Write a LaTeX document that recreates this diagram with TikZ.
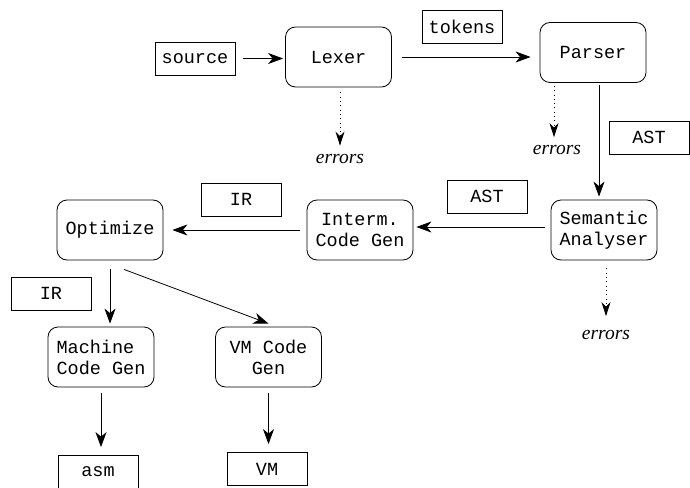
\documentclass[tikz,border=0pt]{standalone}
\usepackage{fontspec}
\setmonofont{Liberation Mono}
\newfontfamily\errfont{Liberation Serif}
\usetikzlibrary{arrows.meta,calc}

\begin{document}
\begin{tikzpicture}[x=1pt,y=-1pt,
  codefont/.style={font=\ttfamily\fontsize{18.5}{21}\selectfont},
  stage/.style={draw, codefont, rounded corners=10pt, minimum width=106pt,
    minimum height=60pt, align=center, inner sep=2pt, line width=0.8pt},
  datum/.style={draw, codefont, minimum width=80pt, minimum height=33pt,
    inner sep=2pt, line width=0.8pt},
  note/.style={font=\errfont\itshape\fontsize{19.5}{22}\selectfont, inner sep=0pt},
  flow/.style={-{Stealth[length=15pt,width=11pt,inset=4.5pt]}, line width=0.8pt},
  diag/.style={-{Stealth[length=14pt,width=9pt,inset=4.5pt]}, line width=0.8pt,
    dash pattern=on 1pt off 3.3pt}]

  \useasboundingbox (0,0) rectangle (690,487);
  \clip (0,0) rectangle (690,487);

  % compiler stages
  \node[stage] (lexer)    at (338.5,57)  {Lexer};
  \node[stage] (parser)   at (593,52.5)  {Parser};
  \node[stage] (sema)     at (604,230)   {Semantic\\Analyser};
  \node[stage] (irgen)    at (360,230)   {Interm.\\Code Gen};
  \node[stage] (opt)      at (110,230)   {Optimize};
  \node[stage, align=left] (mcgen) at (101,357) {Machine\\Code Gen};
  \node[stage] (vmgen)    at (268.5,357) {VM Code\\Gen};

  % data passed between stages
  \node[datum] (source) at (195,58.5)  {source};
  \node[datum] (tokens) at (462,26.5)  {tokens};
  \node[datum] (ast1)   at (649,137.5) {AST};
  \node[datum] (ast2)   at (487,196.5) {AST};
  \node[datum] (ir1)    at (241,199.5) {IR};
  \node[datum] (ir2)    at (51,293.5)  {IR};
  \node[datum] (asm)    at (98,472)    {asm};
  \node[datum] (vm)     at (267,469)   {VM};

  % error outputs
  \node[note] (err1) at (340,158.5) {errors};
  \node[note] (err2) at (557,150)   {errors};
  \node[note] (err3) at (606,335)   {errors};

  % tap points off the stage boxes
  \coordinate (parserout) at ([xshift=6pt]parser.south);
  \coordinate (optout)    at ([xshift=14pt,yshift=-9pt]opt.south);
  \coordinate (vmin)      at ([yshift=3pt]vmgen.north);

  % main flow
  \draw[flow, shorten <=8pt, shorten >=2pt] (source.east) -- (source.east -| lexer.west);
  \draw[flow, shorten <=10pt, shorten >=9pt] (lexer.east) -- (lexer.east -| parser.west);
  \draw[flow, shorten <=2pt, shorten >=3pt] (parserout) -- (parserout |- sema.north);
  \draw[flow, shorten <=6pt, shorten >=3pt] ([yshift=3pt]sema.west) -- ([yshift=3pt]irgen.east);
  \draw[flow, shorten <=7pt, shorten >=9pt] (irgen.west) -- (opt.east);
  \draw[flow, shorten <=9pt, shorten >=3pt] (opt.south) -- (opt.south |- mcgen.north);
  \draw[flow] (optout) -- (vmin);
  \draw[flow, shorten <=6pt, shorten >=8pt] (mcgen.south) -- (mcgen.south |- asm.north);
  \draw[flow, shorten <=6pt, shorten >=8pt] (vmgen.south) -- (vmgen.south |- vm.north);

  % error reporting
  \draw[diag, shorten <=5pt, shorten >=8pt] (lexer.south -| err1) -- (err1.north);
  \draw[diag, shorten <=3pt, shorten >=8pt] ([xshift=-3pt]parser.south -| err2) -- ([xshift=-3pt]err2.north);
  \draw[diag, shorten <=8pt, shorten >=14pt] (sema.south -| err3) -- (err3.north);
\end{tikzpicture}
\end{document}
